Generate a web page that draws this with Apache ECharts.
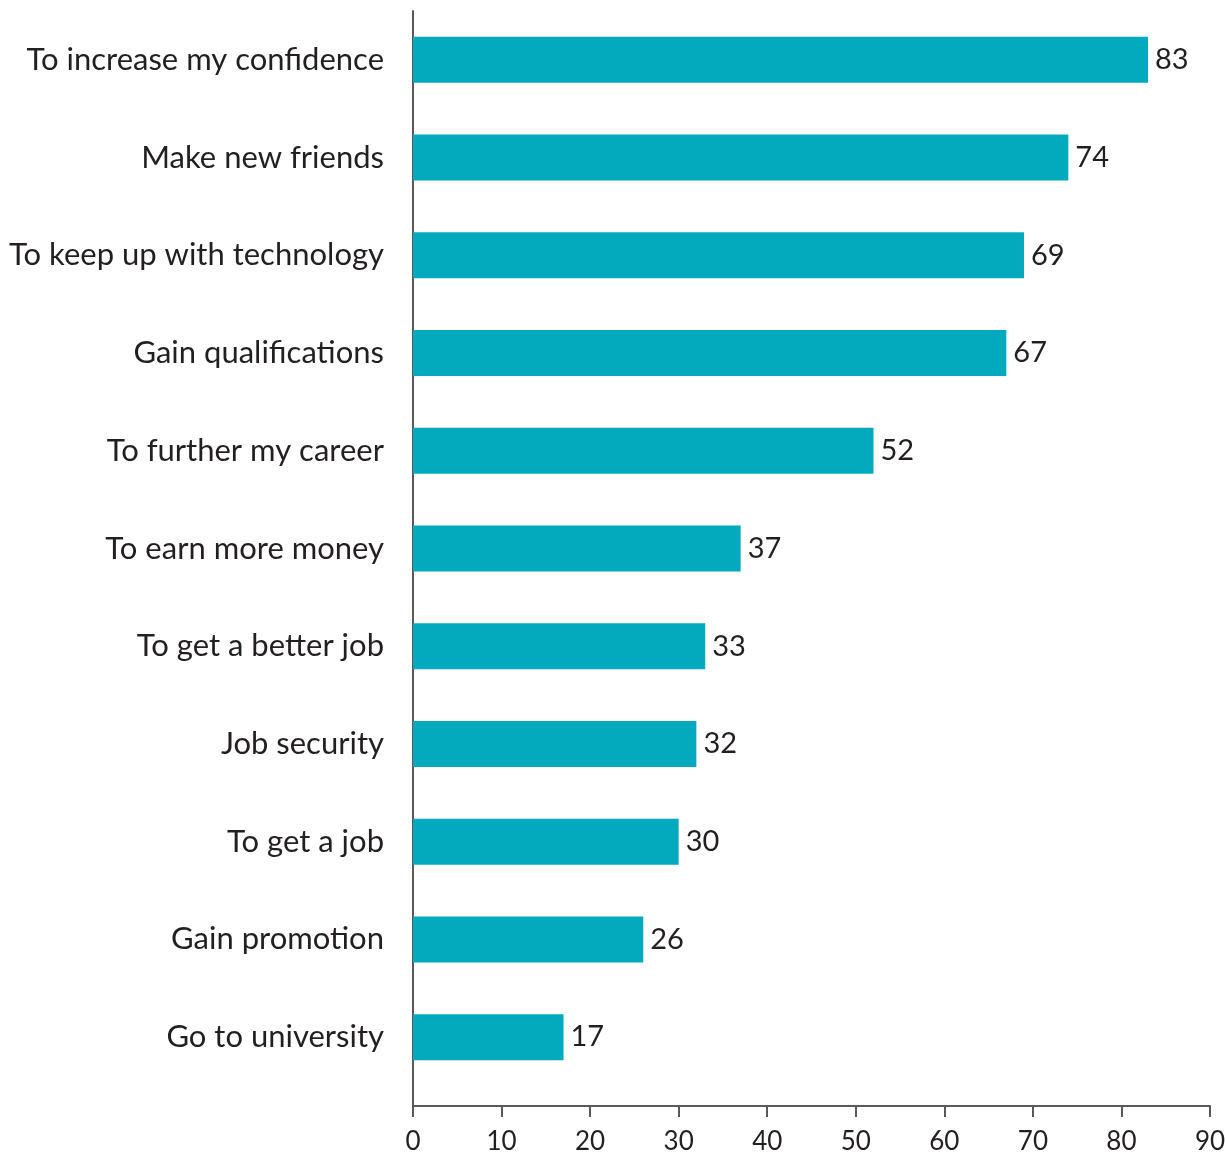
<!DOCTYPE html>
<html>
<head>
<meta charset="utf-8">
<script src="https://cdn.jsdelivr.net/npm/echarts@6/dist/echarts.min.js"></script>
<style>
  html, body { margin: 0; padding: 0; background: #fff; }
  #chart { width: 1225px; height: 1154px; }
</style>
</head>
<body>
<div id="chart"></div>
<script>
// Reasons for learning (%), top to bottom
const categories = [
  'To increase my confidence',
  'Make new friends',
  'To keep up with technology',
  'Gain qualifications',
  'To further my career',
  'To earn more money',
  'To get a better job',
  'Job security',
  'To get a job',
  'Gain promotion',
  'Go to university'
];
const values = [83, 74, 69, 67, 52, 37, 33, 32, 30, 26, 17];
const xTicks = [0, 10, 20, 30, 40, 50, 60, 70, 80, 90];

const FONT = 'Lato, "Open Sans", sans-serif';
const TEXT = '#231f20';
const AXIS = '#58595b';
const BAR = '#03a9bd';

const GRID_LEFT = 413, GRID_TOP = 11, GRID_H = 1075, AXIS_OFFSET = 20;

const chart = echarts.init(document.getElementById('chart'), null, { renderer: 'canvas' });
chart.setOption({
  animation: false,
  backgroundColor: '#fff',
  grid: { left: GRID_LEFT, right: 15, top: GRID_TOP, height: GRID_H, outerBoundsMode: 'none' },
  xAxis: {
    type: 'value',
    min: xTicks[0],
    max: xTicks[xTicks.length - 1],
    interval: 10,
    offset: AXIS_OFFSET,
    axisLine: { show: true, lineStyle: { color: AXIS, width: 2 } },
    axisTick: { show: true, length: 11, lineStyle: { color: AXIS, width: 2 } },
    axisLabel: { color: TEXT, fontFamily: FONT, fontSize: 26, margin: 23 },
    splitLine: { show: false }
  },
  yAxis: {
    type: 'category',
    data: categories,
    inverse: true,
    axisLine: { show: true, lineStyle: { color: AXIS, width: 2 } },
    axisTick: { show: false },
    axisLabel: { color: TEXT, fontFamily: FONT, fontSize: 31, margin: 29, padding: [4, 0, 0, 0] }
  },
  series: [{
    type: 'bar',
    data: values,
    barWidth: 46,
    itemStyle: { color: BAR },
    label: {
      show: true,
      position: 'right',
      distance: 7,
      color: TEXT,
      fontFamily: FONT,
      fontSize: 29,
      padding: [0, 0, 6, 0]
    }
  }],
  // continue the vertical axis line down to the offset value axis
  graphic: [{
    type: 'line',
    shape: { x1: GRID_LEFT, y1: GRID_TOP + GRID_H, x2: GRID_LEFT, y2: GRID_TOP + GRID_H + AXIS_OFFSET },
    style: { stroke: AXIS, lineWidth: 2 }
  }]
});
</script>
</body>
</html>
